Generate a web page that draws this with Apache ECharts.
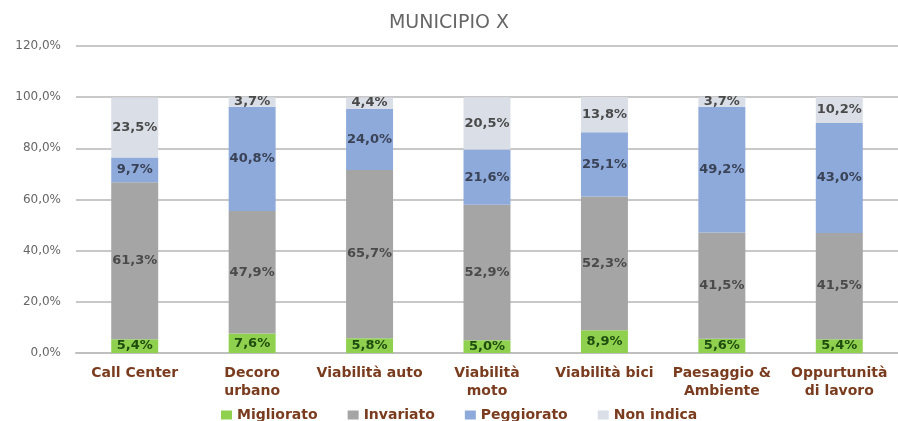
<!DOCTYPE html>
<html>
<head>
<meta charset="utf-8">
<script src="https://cdn.jsdelivr.net/npm/echarts@6/dist/echarts.min.js"></script>
<style>
  html, body { margin: 0; padding: 0; background: #fff; }
  #chart { width: 898px; height: 421px; }
</style>
</head>
<body>
<div id="chart"></div>
<script>
// categorie (asse x)
const categories = ['Call Center', 'Decoro\nurbano', 'Viabilità auto', 'Viabilità\nmoto', 'Viabilità bici', 'Paesaggio &\nAmbiente', 'Oppurtunità\ndi lavoro']

// valori in percentuale
const migliorato = [5.4, 7.6, 5.8, 5.0, 8.9, 5.6, 5.4]
const invariato = [61.3, 47.9, 65.7, 52.9, 52.3, 41.5, 41.5]
const peggiorato = [9.7, 40.8, 24.0, 21.6, 25.1, 49.2, 43.0]
const nonIndica = [23.5, 3.7, 4.4, 20.5, 13.8, 3.7, 10.2]

const fmt = v => v.toFixed(1).replace('.', ',') + '%'

const chart = echarts.init(document.getElementById('chart'))

function serie(name, data, color, labelColor) {
  return {
    name: name,
    type: 'bar',
    stack: 'tot',
    barWidth: '40%',
    data: data,
    itemStyle: { color: color },
    label: {
      show: true,
      position: 'inside',
      color: labelColor,
      fontFamily: 'Verdana, DejaVu Sans',
      fontWeight: 'bold',
      fontSize: 13,
      formatter: p => fmt(p.value)
    }
  }
}

chart.setOption({
  animation: false,
  title: {
    text: 'MUNICIPIO X',
    left: 'center',
    top: 9,
    textStyle: { color: '#666666', fontSize: 19, fontWeight: 'normal', fontFamily: 'DejaVu Sans' }
  },
  legend: {
    top: 403,
    left: 216,
    itemWidth: 11,
    itemHeight: 9,
    itemGap: 30,
    icon: 'rect',
    textStyle: { color: '#7a3c1e', fontWeight: 'bold', fontSize: 14, fontFamily: 'Verdana, DejaVu Sans' },
    data: ['Migliorato', 'Invariato', 'Peggiorato', 'Non indica']
  },
  grid: { left: 76, top: 46, width: 827, height: 307 },
  xAxis: {
    type: 'category',
    data: categories,
    axisLine: { lineStyle: { color: '#bfbfbf', width: 2 } },
    axisTick: { show: false },
    axisLabel: {
      color: '#7a3c1e',
      fontWeight: 'bold',
      fontSize: 14,
      lineHeight: 18,
      margin: 11,
      interval: 0,
      fontFamily: 'Verdana, DejaVu Sans'
    }
  },
  yAxis: {
    type: 'value',
    min: 0,
    max: 120,
    interval: 20,
    axisLine: { show: false },
    axisTick: { show: false },
    splitLine: { lineStyle: { color: '#c8c8c8', width: 2 } },
    axisLabel: {
      color: '#666666',
      fontSize: 12,
      margin: 15,
      fontFamily: 'Verdana, DejaVu Sans',
      formatter: v => v.toFixed(1).replace('.', ',') + '%'
    }
  },
  series: [
    serie('Migliorato', migliorato, '#8fd14f', '#1f4d0f'),
    serie('Invariato', invariato, '#a5a5a5', '#4a4a4a'),
    serie('Peggiorato', peggiorato, '#8eaadb', '#3a4256'),
    serie('Non indica', nonIndica, '#d9dee7', '#4a4a4a')
  ]
})
</script>
</body>
</html>
